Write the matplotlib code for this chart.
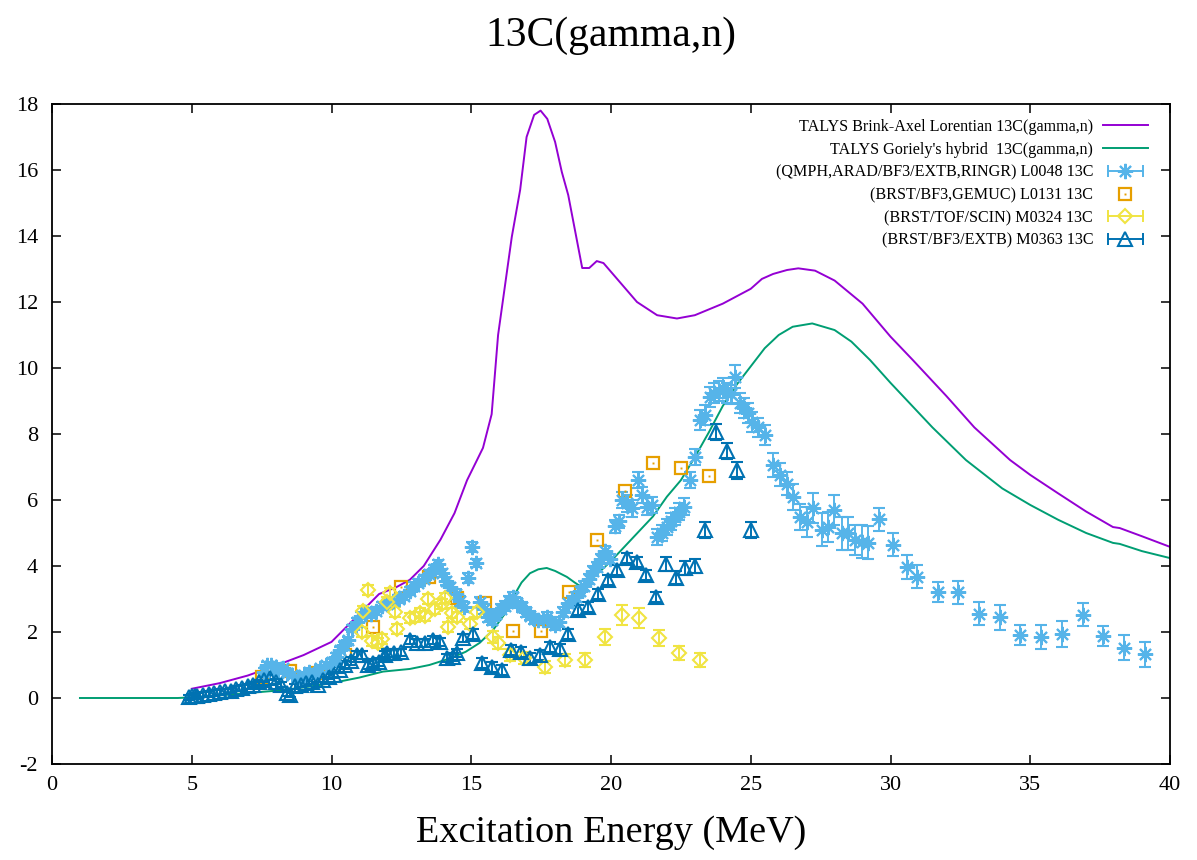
import numpy as np
import matplotlib.pyplot as plt
from matplotlib.lines import Line2D
from matplotlib.legend_handler import HandlerLine2D

plt.rcParams['font.family'] = ['Liberation Serif', 'DejaVu Serif']
plt.rcParams['axes.unicode_minus'] = False

# TALYS Brink-Axel Lorentian
ba_x = [5.0, 6.0, 7.0, 8.0, 9.0, 10.0, 11.0, 11.7, 12.3, 12.8,
        13.3, 13.9, 14.4, 14.85, 15.2, 15.42, 15.73, 15.96, 16.45, 16.75,
        16.98, 17.25, 17.48, 17.72, 18.0, 18.24, 18.47, 18.71, 18.97, 19.22,
        19.49, 19.73, 20.32, 20.93, 21.65, 22.36, 23.0, 24.0, 25.0, 25.4,
        25.8, 26.3, 26.7, 27.3, 28.0, 29.0, 30.0, 30.8, 32.0, 33.0,
        34.28, 35.0, 36.0, 37.0, 37.96, 38.2, 39.0, 40.0]
ba_y = [0.28, 0.45, 0.68, 0.98, 1.3, 1.7, 2.55, 3.15, 3.35, 3.58,
        4.0, 4.8, 5.6, 6.6, 7.2, 7.58, 8.6, 11.0, 13.97, 15.4,
        17.0, 17.67, 17.8, 17.55, 16.85, 15.94, 15.24, 14.18, 13.03, 13.03,
        13.24, 13.18, 12.6, 12.0, 11.6, 11.5, 11.6, 11.95, 12.4, 12.7,
        12.85, 12.97, 13.02, 12.95, 12.65, 11.95, 10.95, 10.24, 9.15, 8.2,
        7.21, 6.76, 6.2, 5.65, 5.18, 5.15, 4.9, 4.58]

# TALYS Goriely's hybrid
gh_x = [1.0, 4.5, 5.0, 6.0, 7.0, 8.0, 9.0, 10.0, 11.0, 11.84,
        12.8, 13.5, 14.24, 14.8, 15.3, 15.78, 16.2, 16.5, 16.8, 17.1,
        17.4, 17.7, 18.0, 18.42, 18.7, 19.0, 19.5, 20.0, 20.5, 21.0,
        21.5, 22.0, 22.5, 23.0, 23.5, 24.0, 24.5, 25.0, 25.5, 26.0,
        26.5, 27.2, 28.0, 28.6, 29.27, 30.0, 31.5, 32.7, 34.0, 35.0,
        36.0, 37.0, 37.96, 38.2, 39.0, 40.0]
gh_y = [0.0, 0.0, 0.02, 0.08, 0.15, 0.22, 0.32, 0.45, 0.62, 0.8,
        0.88, 1.0, 1.2, 1.4, 1.67, 2.06, 2.55, 3.06, 3.5, 3.78,
        3.9, 3.94, 3.85, 3.67, 3.5, 3.33, 3.75, 4.15, 4.6, 5.05,
        5.5, 6.1, 6.6, 7.3, 8.05, 8.85, 9.5, 10.05, 10.6, 11.0,
        11.25, 11.35, 11.15, 10.8, 10.24, 9.55, 8.2, 7.21, 6.35, 5.85,
        5.4, 5.0, 4.7, 4.67, 4.45, 4.24]

# L0048 (QMPH,ARAD/BF3/EXTB,RINGR)
lb_x = [7.6, 7.7, 7.85, 8.0, 8.1, 8.25, 8.4, 8.6, 8.8, 9.0,
        9.2, 9.4, 9.6, 9.8, 10.0, 10.15, 10.3, 10.45, 10.6, 10.75,
        10.9, 11.05, 11.2, 11.4, 11.6, 11.8, 12.0, 12.2, 12.4, 12.6,
        12.8, 12.95, 13.1, 13.3, 13.5, 13.65, 13.8, 13.95, 14.1, 14.25,
        14.45, 14.6, 14.75, 14.9, 15.03, 15.17, 15.3, 15.45, 15.6, 15.75,
        15.9, 16.05, 16.2, 16.35, 16.5, 16.65, 16.8, 16.95, 17.1, 17.25,
        17.4, 17.55, 17.7, 17.85, 18.0, 18.15, 18.3, 18.45, 18.6, 18.75,
        18.9, 19.05, 19.2, 19.35, 19.5, 19.65, 19.8, 19.95, 20.15, 20.3,
        20.4, 20.57, 20.75, 20.95, 21.1, 21.3, 21.45, 21.65, 21.82, 22.0,
        22.15, 22.3, 22.45, 22.6, 22.83, 23.0, 23.18, 23.36, 23.54, 23.7,
        23.85, 24.0, 24.15, 24.3, 24.44, 24.6, 24.75, 24.9, 25.04, 25.26,
        25.5, 25.8, 26.05, 26.3, 26.5, 26.76, 27.0, 27.24, 27.55, 27.76,
        27.98, 28.26, 28.48, 28.73, 28.98, 29.2, 29.59, 30.1, 30.59, 30.95,
        31.7, 32.4, 33.17, 33.9, 34.63, 35.4, 36.14, 36.89, 37.6, 38.35,
        39.1]
lb_y = [0.8, 1.0, 1.0, 0.95, 0.85, 0.9, 0.75, 0.7, 0.65, 0.7,
        0.8, 0.75, 0.9, 1.0, 1.1, 1.25, 1.45, 1.6, 1.75, 2.1,
        2.3, 2.5, 2.6, 2.55, 2.65, 2.8, 2.85, 2.95, 3.0, 3.1,
        3.25, 3.4, 3.5, 3.6, 3.75, 3.9, 4.05, 3.8, 3.55, 3.35,
        3.15, 2.95, 2.75, 3.65, 4.58, 4.1, 2.9, 2.7, 2.45, 2.35,
        2.55, 2.7, 2.8, 2.95, 3.05, 2.88, 2.75, 2.6, 2.5, 2.4,
        2.35, 2.35, 2.45, 2.3, 2.2, 2.3, 2.6, 2.88, 2.95, 3.05,
        3.25, 3.4, 3.6, 3.85, 3.97, 4.2, 4.45, 4.2, 5.2, 5.35,
        6.0, 5.9, 5.75, 6.6, 6.15, 5.8, 5.85, 4.88, 5.0, 5.18,
        5.35, 5.5, 5.65, 5.8, 6.6, 7.3, 8.42, 8.58, 9.12, 9.25,
        9.3, 9.4, 9.25, 9.2, 9.73, 8.94, 8.8, 8.64, 8.36, 8.2,
        7.97, 7.06, 6.76, 6.5, 6.1, 5.48, 5.33, 5.76, 5.1, 5.18,
        5.7, 5.0, 5.0, 4.79, 4.73, 4.7, 5.42, 4.64, 3.97, 3.67,
        3.21, 3.21, 2.55, 2.45, 1.92, 1.85, 1.94, 2.52, 1.88, 1.52,
        1.33]
lb_err = [0.1, 0.1, 0.1, 0.1, 0.1, 0.1, 0.1, 0.1, 0.1, 0.1,
          0.1, 0.1, 0.1, 0.1, 0.1, 0.1, 0.1, 0.1, 0.1, 0.1,
          0.12, 0.12, 0.12, 0.12, 0.12, 0.12, 0.12, 0.12, 0.12, 0.12,
          0.12, 0.12, 0.12, 0.12, 0.12, 0.12, 0.12, 0.12, 0.12, 0.12,
          0.15, 0.15, 0.15, 0.15, 0.15, 0.12, 0.15, 0.15, 0.15, 0.15,
          0.15, 0.15, 0.15, 0.15, 0.15, 0.15, 0.15, 0.15, 0.15, 0.15,
          0.15, 0.15, 0.15, 0.15, 0.15, 0.15, 0.15, 0.15, 0.15, 0.15,
          0.15, 0.15, 0.15, 0.15, 0.15, 0.15, 0.15, 0.15, 0.2, 0.2,
          0.25, 0.25, 0.25, 0.25, 0.25, 0.25, 0.25, 0.25, 0.25, 0.25,
          0.25, 0.25, 0.25, 0.25, 0.25, 0.25, 0.3, 0.3, 0.3, 0.3,
          0.3, 0.3, 0.3, 0.3, 0.35, 0.3, 0.3, 0.3, 0.3, 0.3,
          0.3, 0.35, 0.35, 0.35, 0.4, 0.4, 0.45, 0.45, 0.5, 0.45,
          0.45, 0.5, 0.5, 0.45, 0.5, 0.5, 0.35, 0.35, 0.35, 0.35,
          0.3, 0.35, 0.35, 0.38, 0.3, 0.35, 0.38, 0.35, 0.3, 0.38,
          0.38]

# L0131 (BRST/BF3,GEMUC)
or_x = [7.5, 8.5, 9.5, 10.5, 11.5, 12.5, 13.5, 14.5, 15.5, 16.5,
        17.5, 18.5, 19.5, 20.5, 21.5, 22.5, 23.5]
or_y = [0.65, 0.82, 0.75, 1.3, 2.15, 3.37, 3.67, 3.03, 2.88, 2.03,
        2.03, 3.2, 4.79, 6.27, 7.12, 6.97, 6.73]

# M0324 (BRST/TOF/SCIN)
ye_x = [11.09, 11.13, 11.3, 11.45, 11.66, 11.8, 11.98, 12.09, 12.27, 12.34,
        12.8, 13.0, 13.17, 13.35, 13.45, 13.7, 13.95, 14.06, 14.17, 14.3,
        14.49, 14.96, 15.22, 15.78, 15.96, 16.4, 16.88, 17.64, 18.37, 19.07,
        19.78, 20.39, 21.0, 21.72, 22.43, 23.18]
ye_y = [2.0, 2.64, 3.28, 1.72, 1.67, 1.8, 2.91, 3.18, 2.6, 2.08,
        2.42, 2.45, 2.58, 2.48, 3.0, 2.7, 2.85, 3.03, 2.15, 2.58,
        2.45, 2.24, 2.6, 1.85, 1.68, 1.3, 1.22, 0.94, 1.15, 1.15,
        1.85, 2.52, 2.42, 1.82, 1.36, 1.15]
ye_err = [0.15, 0.15, 0.15, 0.15, 0.15, 0.15, 0.15, 0.15, 0.15, 0.15,
          0.15, 0.15, 0.15, 0.15, 0.15, 0.15, 0.15, 0.15, 0.15, 0.15,
          0.15, 0.15, 0.15, 0.18, 0.18, 0.18, 0.18, 0.18, 0.18, 0.2,
          0.25, 0.3, 0.3, 0.25, 0.22, 0.22]

# M0363 (BRST/BF3/EXTB)
dk_x = [4.9, 5.0, 5.1, 5.2, 5.4, 5.6, 5.8, 6.0, 6.2, 6.4,
        6.6, 6.8, 7.0, 7.2, 7.4, 7.6, 7.8, 8.0, 8.2, 8.4,
        8.5, 8.7, 8.9, 9.1, 9.3, 9.5, 9.7, 9.9, 10.1, 10.3,
        10.5, 10.7, 10.9, 11.1, 11.3, 11.5, 11.7, 11.9, 12.0, 12.25,
        12.5, 12.8, 13.05, 13.35, 13.63, 13.88, 14.13, 14.35, 14.5, 14.7,
        15.06, 15.38, 15.74, 16.1, 16.42, 16.78, 17.1, 17.46, 17.82, 18.17,
        18.47, 18.82, 19.18, 19.53, 19.88, 20.2, 20.57, 20.93, 21.27, 21.6,
        21.95, 22.31, 22.65, 23.0, 23.36, 23.76, 24.15, 24.5, 25.0]
dk_y = [0.02, 0.05, 0.05, 0.07, 0.1, 0.12, 0.15, 0.18, 0.2, 0.22,
        0.28, 0.3, 0.35, 0.4, 0.48, 0.55, 0.62, 0.5, 0.4, 0.15,
        0.1, 0.35, 0.4, 0.45, 0.5, 0.4, 0.55, 0.65, 0.7, 0.85,
        1.0, 1.12, 1.3, 1.3, 1.0, 1.05, 1.1, 1.3, 1.36, 1.36,
        1.38, 1.76, 1.67, 1.67, 1.76, 1.7, 1.21, 1.25, 1.36, 1.82,
        1.94, 1.06, 0.94, 0.85, 1.45, 1.39, 1.21, 1.3, 1.55, 1.48,
        1.94, 2.67, 2.75, 3.15, 3.58, 3.88, 4.25, 4.12, 3.73, 3.06,
        4.06, 3.64, 3.94, 4.0, 5.09, 8.06, 7.48, 6.9, 5.09]
dk_err = [0.08, 0.08, 0.08, 0.08, 0.08, 0.08, 0.08, 0.08, 0.08, 0.08,
          0.08, 0.08, 0.08, 0.08, 0.08, 0.08, 0.08, 0.08, 0.08, 0.08,
          0.08, 0.08, 0.08, 0.08, 0.08, 0.08, 0.08, 0.08, 0.08, 0.08,
          0.12, 0.12, 0.12, 0.12, 0.12, 0.12, 0.12, 0.12, 0.12, 0.12,
          0.12, 0.12, 0.12, 0.12, 0.12, 0.12, 0.12, 0.12, 0.12, 0.12,
          0.15, 0.15, 0.15, 0.15, 0.15, 0.15, 0.15, 0.15, 0.15, 0.15,
          0.15, 0.15, 0.15, 0.15, 0.15, 0.15, 0.15, 0.15, 0.15, 0.15,
          0.2, 0.2, 0.2, 0.2, 0.25, 0.25, 0.25, 0.25, 0.25]

labels = ["TALYS Brink-Axel Lorentian 13C(gamma,n)",
          "TALYS Goriely's hybrid  13C(gamma,n)",
          "(QMPH,ARAD/BF3/EXTB,RINGR) L0048 13C",
          "(BRST/BF3,GEMUC) L0131 13C",
          "(BRST/TOF/SCIN) M0324 13C",
          "(BRST/BF3/EXTB) M0363 13C"]

c_ba, c_gh = '#9400d3', '#009e73'
c_lb, c_or, c_ye, c_dk = '#56b4e9', '#e69f00', '#f0e442', '#0072b2'
asterisk = (8, 2, 0)
ms_lb, ms_or, ms_ye, ms_dk = 11, 8.5, 7.5, 10.5

fig = plt.figure(figsize=(11.97, 8.6), dpi=100)
ax = fig.add_axes([52 / 1197, 96 / 860, 1118 / 1197, 660 / 860])

ax.plot(ba_x, ba_y, color=c_ba, lw=1.4)
ax.plot(gh_x, gh_y, color=c_gh, lw=1.4)

eb = dict(ls='none', capsize=4, elinewidth=1.4, capthick=1.4, mew=1.5)
ax.errorbar(lb_x, lb_y, yerr=lb_err, marker=asterisk, ms=ms_lb,
            color=c_lb, **eb)
ax.plot(or_x, or_y, ls='none', marker='s', ms=ms_or, mfc='none', mec=c_or,
        mew=1.6)
ax.plot(or_x, or_y, ls='none', marker='s', ms=1.4, mfc=c_or, mec=c_or, mew=0)
ax.errorbar(ye_x, ye_y, yerr=ye_err, marker='D', ms=ms_ye, mfc='none',
            color=c_ye, **eb)
ax.errorbar(dk_x, dk_y, yerr=dk_err, marker='^', ms=ms_dk, mfc='none',
            color=c_dk, **eb)

ax.set_xlim(0, 40)
ax.set_ylim(-2, 18)
ax.set_xticks(np.arange(0, 41, 5))
ax.set_yticks(np.arange(-2, 19, 2))
ax.tick_params(direction='in', length=6.5, width=1.1, top=True, right=True,
               labelsize=16)
ax.tick_params(axis='x', pad=9)
ax.tick_params(axis='y', pad=10)
for s in ax.spines.values():
    s.set_linewidth(1.3)

ax.set_title("13C(gamma,n)", fontsize=30, pad=42)
ax.set_xlabel("Excitation Energy (MeV)", fontsize=27.5, labelpad=14)

# legend samples: horizontal bar with end caps, marker in the middle
def err_handle(color, marker, ms):
    cap = Line2D([], [], color=color, lw=1.4, marker='|', ms=9, mew=1.4)
    mk = Line2D([], [], ls='none', color=color, marker=marker, ms=ms,
                mfc='none', mew=1.5)
    return cap, mk

cap_lb, mk_lb = err_handle(c_lb, asterisk, ms_lb)
cap_ye, mk_ye = err_handle(c_ye, 'D', ms_ye)
cap_dk, mk_dk = err_handle(c_dk, '^', ms_dk)
mk_or = Line2D([], [], ls='none', marker='s', ms=ms_or, mfc='none', mec=c_or,
               mew=1.6)
dot_or = Line2D([], [], ls='none', marker='s', ms=1.4, mfc=c_or, mec=c_or, mew=0)

handles = [Line2D([], [], color=c_ba, lw=1.4),
           Line2D([], [], color=c_gh, lw=1.4),
           (cap_lb, mk_lb), (mk_or, dot_or), (cap_ye, mk_ye), (cap_dk, mk_dk)]
hmap = {cap_lb: HandlerLine2D(numpoints=2),
        cap_ye: HandlerLine2D(numpoints=2),
        cap_dk: HandlerLine2D(numpoints=2)}
ax.legend(handles, labels, handler_map=hmap, loc='upper right',
          bbox_to_anchor=((1148 - 52) / 1118, (764 - 119) / 660),
          frameon=False, markerfirst=False, fontsize=11.6, borderpad=0,
          borderaxespad=0, handlelength=2.8, handletextpad=0.6,
          labelspacing=0.42, numpoints=1)

fig.savefig('out.png', dpi=100)
